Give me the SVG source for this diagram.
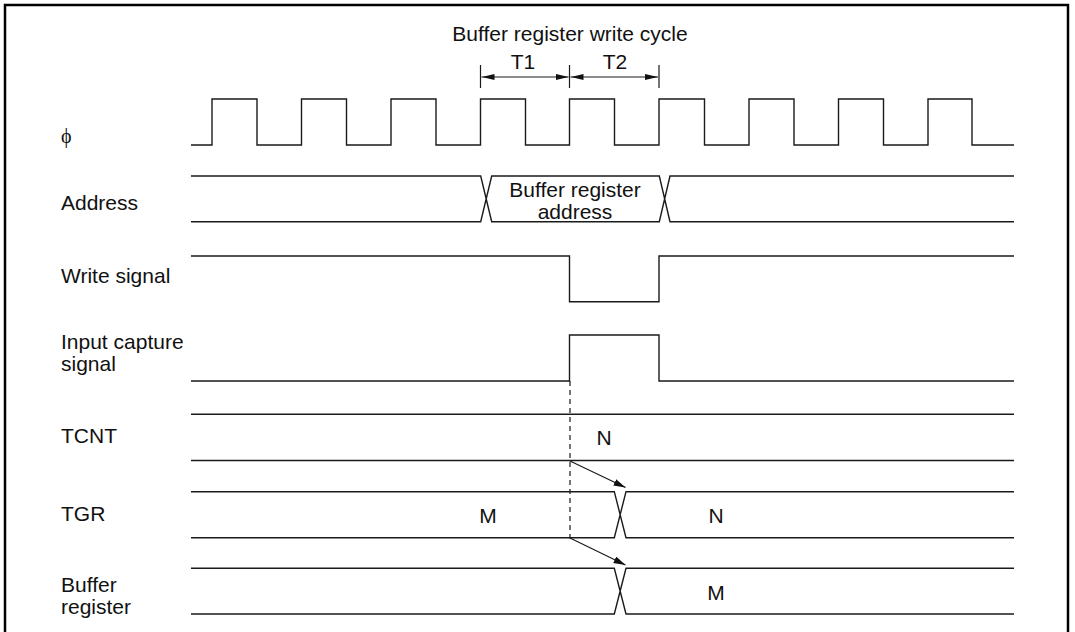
<svg xmlns="http://www.w3.org/2000/svg" width="1075" height="632" viewBox="0 0 1075 632">
<style>
text{font-family:"Liberation Sans",Arial,sans-serif;font-size:21px;fill:#111}
.mid{text-anchor:middle}
.sig{fill:none;stroke:#1a1a1a;stroke-width:1.4}
.conn{fill:none;stroke:#1a1a1a;stroke-width:1.2}
.phi{font-family:"Liberation Serif","DejaVu Serif",serif;font-size:20px}
</style>
<defs>
<marker id="ah" viewBox="0 0 12 7" refX="12" refY="3.5" markerWidth="12" markerHeight="7" markerUnits="userSpaceOnUse" orient="auto">
<path d="M0,0 L12,3.5 L0,7 Z" fill="#111"/>
</marker>
<marker id="dh" viewBox="0 0 13 6" refX="13" refY="3" markerWidth="13" markerHeight="6" markerUnits="userSpaceOnUse" orient="auto-start-reverse">
<path d="M0,0 L13,3 L0,6 Z" fill="#111"/>
</marker>
</defs>
<rect x="0" y="0" width="1075" height="632" fill="#fff"/>
<path d="M5,640 V5 H1068 V640" fill="none" stroke="#000" stroke-width="2.5"/>

<g id="cycle">
<text class="mid" x="570" y="41">Buffer register write cycle</text>
<text class="mid" x="523" y="69">T1</text>
<text class="mid" x="615" y="69">T2</text>
<path class="conn" d="M480.5,65 V88 M569.5,65 V88 M659,65 V88"/>
<path class="conn" d="M481.5,77 H568.5" marker-start="url(#dh)" marker-end="url(#dh)"/>
<path class="conn" d="M570.5,77 H658" marker-start="url(#dh)" marker-end="url(#dh)"/>
</g>

<g id="phi">
<text class="phi" x="61" y="143">ϕ</text>
<path class="sig" d="M191,145 H212 V99 H257 V145 H301.5 V99 H346.5 V145 H391 V99 H436 V145 H480.5 V99 H525.5 V145 H569.5 V99 H614.5 V145 H659 V99 H704.5 V145 H749 V99 H794 V145 H838.5 V99 H883.5 V145 H928 V99 H972 V145 H1014"/>
</g>

<g id="address">
<text x="61" y="210">Address</text>
<path class="sig" d="M191,176 H480.7 L491.7,221.7 H659.3 L670,176 H1014 M191,221.7 H480.7 L491.7,176 H659.3 L670,221.7 H1014"/>
<text class="mid" x="575" y="197">Buffer register</text>
<text class="mid" x="575" y="219">address</text>
</g>

<g id="write">
<text x="61" y="283">Write signal</text>
<path class="sig" d="M191,256 H569.5 V301.7 H659 V256 H1014"/>
</g>

<g id="capture">
<text x="61" y="349">Input capture</text>
<text x="61" y="371">signal</text>
<path class="sig" d="M191,381 H569.5 V335 H659 V381 H1014"/>
</g>

<g id="tcnt">
<text x="61" y="443">TCNT</text>
<path class="sig" d="M191,414.3 H1014 M191,460.5 H1014"/>
<text class="mid" x="604" y="445">N</text>
</g>

<g id="tgr">
<text x="61" y="521">TGR</text>
<path class="sig" d="M191,491.7 H614.3 L626,537.7 H1014 M191,537.7 H614.3 L626,491.7 H1014"/>
<text class="mid" x="488" y="523">M</text>
<text class="mid" x="716" y="523">N</text>
</g>

<g id="bufreg">
<text x="61" y="592">Buffer</text>
<text x="61" y="614">register</text>
<path class="sig" d="M191,568.3 H614.3 L626,614 H1014 M191,614 H614.3 L626,568.3 H1014"/>
<text class="mid" x="716" y="600">M</text>
</g>

<g id="connectors">
<path class="conn" d="M570,381 V538.5" stroke-dasharray="5,4"/>
<path class="conn" d="M570,461 L625.5,487.5" marker-end="url(#ah)"/>
<path class="conn" d="M570,538 L625.5,565" marker-end="url(#ah)"/>
</g>
</svg>
